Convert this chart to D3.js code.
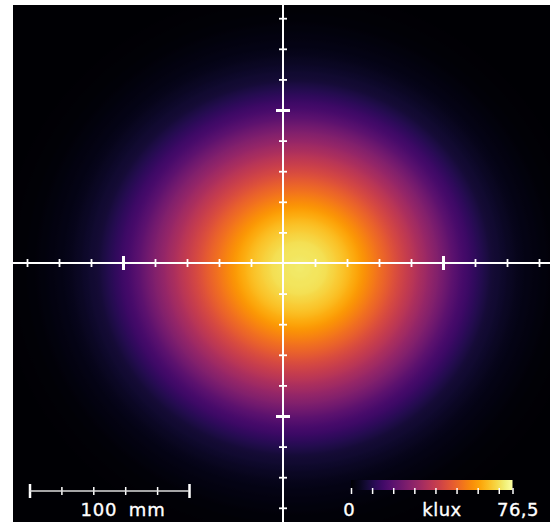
<!DOCTYPE html>
<html>
<head>
<meta charset="utf-8">
<script src="https://cdn.jsdelivr.net/npm/d3@7"></script>
<style>
  html, body { margin: 0; padding: 0; background: #fff; }
  svg { display: block; }
  text { font-family: "DejaVu Sans", sans-serif; font-size: 18px; fill: #fff; stroke: #fff; stroke-width: 0.35px; }
</style>
</head>
<body>
<div id="chart-container"></div>
<script>
// Radial illuminance profile
const radiusMm = [0, 16, 28, 38, 52, 72, 88, 102, 122, 141, 162, 188];
const kluxValues = [72, 70.4, 65.8, 60.4, 51.3, 38.3, 27.5, 17.6, 7.6, 3.4, 1.1, 0];
const spotCentreMm = [5.6, -3.3];
const hotCoreMm = [10.6, -3.3];

// Tick positions, mm from the crosshair
const minorTicksMm = [-160, -140, -120, -80, -60, -40, -20, 20, 40, 60, 80, 120, 140, 160];
const majorTicksMm = [-100, 100];

// Scale bar, mm
const scaleBarMinor = [20, 40, 60, 80];
const scaleBarEnds = [0, 100];

// Colour bar, klux
const colourBarTicks = [0, 10, 20, 30, 40, 50, 60, 70, 76.5];
const colourBarMax = 76.5;

const width = 550;
const height = 522;
const plot = { left: 13, top: 5, right: 550, bottom: 522 };

const svg = d3.select("#chart-container")
  .append("svg")
  .attr("width", width)
  .attr("height", height);

const x = d3.scaleLinear().domain([-100, 100]).range([123, 443]);
const y = d3.scaleLinear().domain([100, -100]).range([110, 416]);

const profile = d3.scaleLinear().domain(radiusMm).range(kluxValues).clamp(true);
const colour = d3.scaleSequential(d3.interpolateInferno).domain([0, colourBarMax]);

const defs = svg.append("defs");

// Light spot as a radial gradient, stops taken from the profile
const rMax = d3.max(radiusMm);
const spot = defs.append("radialGradient")
  .attr("id", "spot")
  .attr("gradientUnits", "userSpaceOnUse")
  .attr("cx", 0).attr("cy", 0).attr("r", 1)
  .attr("fx", (hotCoreMm[0] - spotCentreMm[0]) / rMax)
  .attr("fy", 0)
  .attr("gradientTransform",
    `translate(${x(spotCentreMm[0])},${y(spotCentreMm[1])}) scale(${x(rMax) - x(0)},${y(0) - y(rMax)})`);

spot.selectAll("stop")
  .data(d3.range(0, 1.0001, 0.01))
  .enter().append("stop")
  .attr("offset", d => d)
  .attr("stop-color", d => colour(profile(d * rMax)));

svg.append("rect")
  .attr("x", plot.left)
  .attr("y", plot.top)
  .attr("width", plot.right - plot.left)
  .attr("height", plot.bottom - plot.top)
  .attr("fill", "url(#spot)");

// Crosshair
function styleAxis(g, thick) {
  g.select(".domain").remove();
  g.selectAll("line").attr("stroke", "#fff").attr("stroke-width", thick);
}

function horizontalTicks(values, half, thick) {
  svg.append("g")
    .attr("transform", `translate(0,${y(0)})`)
    .call(d3.axisBottom(x).tickValues(values).tickSize(half).tickFormat(""))
    .call(g => styleAxis(g, thick))
    .call(g => g.selectAll("line").attr("y1", -half));
}

function verticalTicks(values, half, thick) {
  svg.append("g")
    .attr("transform", `translate(${x(0)},0)`)
    .call(d3.axisLeft(y).tickValues(values).tickSize(half).tickFormat(""))
    .call(g => styleAxis(g, thick))
    .call(g => g.selectAll("line").attr("x1", half));
}

svg.append("line")
  .attr("x1", plot.left).attr("x2", plot.right)
  .attr("y1", y(0)).attr("y2", y(0))
  .attr("stroke", "#fff").attr("stroke-width", 2);

svg.append("line")
  .attr("x1", x(0)).attr("x2", x(0))
  .attr("y1", plot.top).attr("y2", plot.bottom)
  .attr("stroke", "#fff").attr("stroke-width", 2);

horizontalTicks(minorTicksMm, 4, 1.8);
horizontalTicks(majorTicksMm, 7, 3);
verticalTicks(minorTicksMm, 4, 1.8);
verticalTicks(majorTicksMm, 7, 3);

// Scale bar
const barY = 491;
const barX = d3.scaleLinear().domain([0, 100]).range([29.5, 189]);

svg.append("g")
  .attr("transform", `translate(0,${barY})`)
  .call(d3.axisBottom(barX).tickValues(scaleBarMinor).tickSize(4).tickFormat(""))
  .call(g => {
    g.select(".domain").remove();
    g.selectAll("line").attr("y1", -4).attr("stroke", "#fff").attr("stroke-width", 1.5);
  });

svg.append("g")
  .attr("transform", `translate(0,${barY})`)
  .call(d3.axisBottom(barX).tickValues(scaleBarEnds).tickSize(7).tickFormat(""))
  .call(g => {
    g.select(".domain").remove();
    g.selectAll("line").attr("y1", -7).attr("stroke", "#fff").attr("stroke-width", 2.5);
  });

svg.append("line")
  .attr("x1", barX(0)).attr("x2", barX(100))
  .attr("y1", barY).attr("y2", barY)
  .attr("stroke", "#ddd").attr("stroke-width", 1.5);

svg.append("text")
  .attr("x", 123)
  .attr("y", 516)
  .attr("text-anchor", "middle")
  .attr("word-spacing", "5px")
  .attr("letter-spacing", "0.8px")
  .text("100 mm");

// Colour bar
const cbar = d3.scaleLinear().domain([0, colourBarMax]).range([351, 512.5]);

const cbarGrad = defs.append("linearGradient").attr("id", "cbar");
cbarGrad.selectAll("stop")
  .data(d3.range(0, 1.0001, 0.05))
  .enter().append("stop")
  .attr("offset", d => d)
  .attr("stop-color", d => colour(d * colourBarMax));

svg.append("rect")
  .attr("x", cbar(0))
  .attr("y", 480)
  .attr("width", cbar(colourBarMax) - cbar(0))
  .attr("height", 10)
  .attr("fill", "url(#cbar)");

svg.append("g")
  .attr("transform", "translate(0,488)")
  .call(d3.axisBottom(cbar).tickValues(colourBarTicks).tickSize(6).tickFormat(""))
  .call(g => {
    g.select(".domain").remove();
    g.selectAll("line").attr("stroke", "#fff").attr("stroke-width", 1.5);
  });

svg.append("text").attr("x", 349).attr("y", 516).attr("text-anchor", "middle").text("0");
svg.append("text").attr("x", 442).attr("y", 516).attr("text-anchor", "middle").attr("letter-spacing", "0.5px").text("klux");
svg.append("text").attr("x", 518).attr("y", 516).attr("text-anchor", "middle").attr("letter-spacing", "0.5px").text("76,5");
</script>
</body>
</html>
